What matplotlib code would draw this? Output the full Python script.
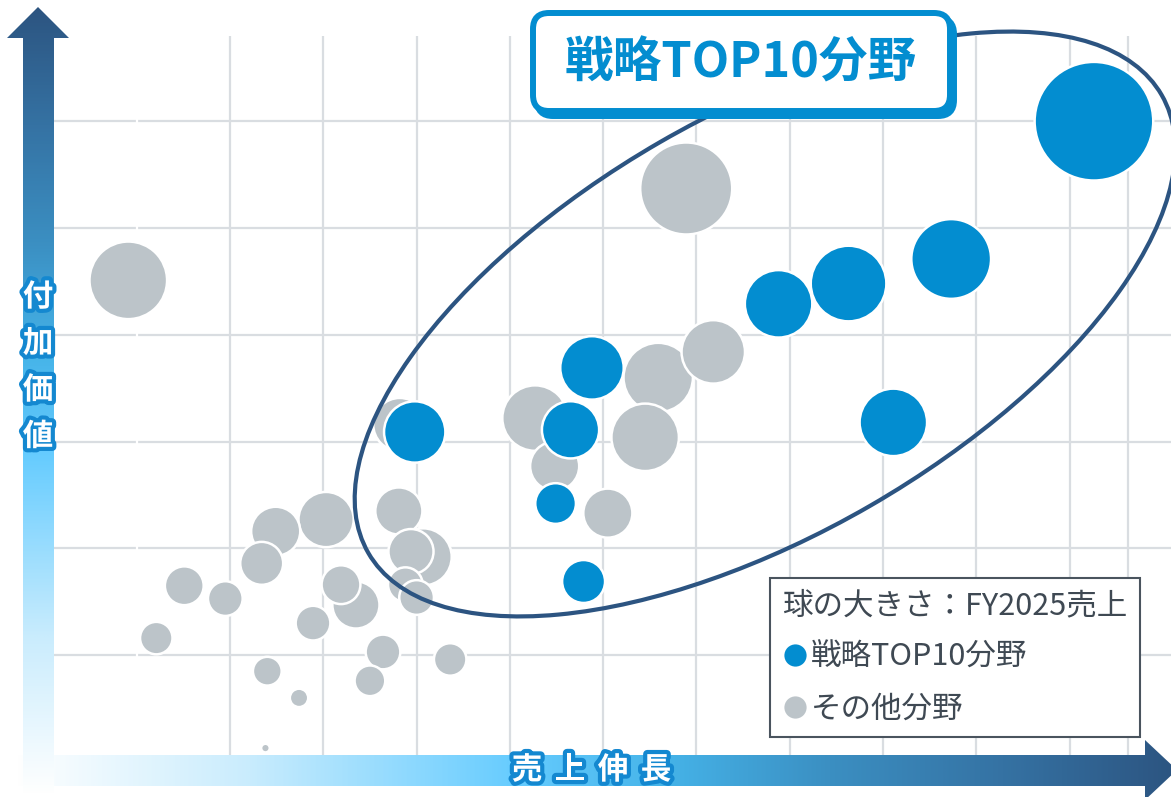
import matplotlib
matplotlib.use("Agg")
import matplotlib.pyplot as plt
import matplotlib.patches as mpatches
import matplotlib.patheffects as pe
from matplotlib.colors import LinearSegmentedColormap
from matplotlib.lines import Line2D
import numpy as np

plt.rcParams['font.family'] = ['Noto Sans CJK JP', 'DejaVu Sans']

W, H, DPI = 1171, 797, 100
BLUE = '#038dd0'
GRAY = '#bcc4c9'
NAVY = '#2c5481'
GRID = '#d9dde1'

# 戦略TOP10分野  x: 売上伸長, y: 付加価値, size: FY2025売上
top_x = [10.26, 8.73, 7.63, 6.88, 8.11, 4.88, 4.65, 2.98, 4.49, 4.79]
top_y = [6.00, 4.71, 4.48, 4.29, 3.18, 3.69, 3.11, 3.09, 2.42, 1.69]
top_sales = [374, 169, 152, 121, 121, 107, 87, 100, 44, 49]

# その他分野
other_x = [-0.09, 5.89, 6.18, 5.59, 5.45, 4.27, 4.48, 5.05, 2.82, 2.81,
           2.94, 3.07, 1.49, 2.03, 1.34, 0.51, 0.95, 0.21, 2.19, 2.35,
           1.89, 2.88, 3.00, 2.64, 2.50, 3.36, 1.40, 1.74, 1.38]
other_y = [4.51, 5.37, 3.84, 3.60, 3.04, 3.22, 2.77, 2.33, 3.16, 2.35,
           1.97, 1.92, 2.16, 2.27, 1.86, 1.65, 1.53, 1.16, 1.66, 1.47,
           1.30, 1.66, 1.54, 1.03, 0.76, 0.96, 0.85, 0.60, 0.13]
other_sales = [160, 225, 107, 128, 121, 114, 64, 64, 75, 59,
               54, 87, 64, 81, 49, 40, 32, 28, 40, 59,
               32, 32, 32, 32, 25, 28, 22, 9, 2]

title = '戦略TOP10分野'
legend_title = '球の大きさ：FY2025売上'
legend_labels = ['戦略TOP10分野', 'その他分野']
x_label = '売上伸長'
y_label = '付加価値'

SIZE_K = 19.5  # points^2 per sales unit

fig = plt.figure(figsize=(W / DPI, H / DPI), dpi=DPI)

# main bubble axes
ax = fig.add_axes([0, 0, 1, 1])
ax.set_xlim(-1.465, 11.086)
ax.set_ylim(-0.328, 7.135)
ax.set_axis_off()

ax.hlines(np.arange(1, 7), -0.9, 11.2, color=GRID, lw=1.6, zorder=0)
ax.vlines(list(range(1, 11)) + [10.62], -0.1, 6.80, color=GRID, lw=1.6, zorder=0)
ax.vlines([0], -0.1, 6.80, color='white', lw=1.6, zorder=0.5)


def bubbles(xs, ys, sales, color):
    order = np.argsort(-np.array(sales), kind='stable')
    ax.scatter(np.array(xs)[order], np.array(ys)[order],
               s=np.array(sales)[order] * SIZE_K, color=color,
               edgecolor='white', linewidth=1.8, zorder=2)


bubbles(other_x, other_y, other_sales, GRAY)
bubbles(top_x, top_y, top_sales, BLUE)

# overlay in pixel units for decorations
dax = fig.add_axes([0, 0, 1, 1], zorder=2)
dax.set_axis_off()
dax.patch.set_visible(False)

cmap = LinearSegmentedColormap.from_list('arrow', [
    (0.0, '#ffffff'), (0.2, '#c9ecfd'), (0.43, '#66ccff'), (0.56, '#45b3e8'),
    (0.7, '#3b8fc2'), (0.85, '#3572a3'), (1.0, '#2c5480')])


def grad_arrow(verts, extent, horizontal):
    poly = mpatches.Polygon(verts, closed=True, facecolor='none', edgecolor='none')
    dax.add_patch(poly)
    g = np.linspace(0, 1, 512)
    img = g[None, :] if horizontal else g[::-1][:, None]
    im = dax.imshow(img, cmap=cmap, extent=extent, aspect='auto',
                    interpolation='bilinear', origin='upper', zorder=1)
    im.set_clip_path(poly)


grad_arrow([(15, 755), (1145, 755), (1145, 740), (1177, 770), (1145, 800),
            (1145, 786), (15, 786)], (15, 1180, 800, 740), True)
grad_arrow([(23, 795), (23, 38), (7, 38), (38, 7), (69, 38), (54, 38),
            (54, 795)], (5, 70, 795, 5), False)

glow = [pe.withStroke(linewidth=6, foreground='#1488d0')]
for i, ch in enumerate(x_label):
    dax.text(527 + 43 * i, 770, ch, ha='center', va='center', fontsize=22,
             fontweight='bold', color='white', path_effects=glow, zorder=3)
for i, ch in enumerate(y_label):
    dax.text(38, 297 + 46.5 * i, ch, ha='center', va='center', fontsize=22,
             fontweight='bold', color='white', path_effects=glow, zorder=3)

# highlight ellipse
dax.add_patch(mpatches.Ellipse((765, 324), 916, 420, angle=-30, fill=False,
                               edgecolor=NAVY, lw=3, zorder=2))

# title box
for off, fc in [((4, 5), BLUE), ((0, 0), 'white')]:
    dax.add_patch(mpatches.FancyBboxPatch(
        (533 + off[0], 13 + off[1]), 417, 98,
        boxstyle='round,pad=0,rounding_size=16',
        facecolor=fc, edgecolor=BLUE, lw=4.3, zorder=4))
dax.text(741, 63, title, ha='center', va='center', fontsize=35,
         fontweight='bold', color=BLUE, zorder=5)

handles = [Line2D([], [], ls='', marker='o', ms=16, mfc=BLUE, mec='none'),
           Line2D([], [], ls='', marker='o', ms=16, mfc=GRAY, mec='none')]
leg = dax.legend(handles, legend_labels, title=legend_title, loc='upper left',
                 bbox_to_anchor=(770, 578), bbox_transform=dax.transData,
                 alignment='left', fontsize=22, title_fontsize=22,
                 frameon=True, fancybox=False, edgecolor='#4a545e',
                 framealpha=1, borderpad=0.4, handlelength=0.85,
                 handletextpad=0.1, labelspacing=0.68, borderaxespad=0)
leg.get_frame().set_linewidth(1.5)
leg.set_zorder(6)
for t in leg.get_texts():
    t.set_color('#3f4953')
leg.get_title().set_color('#3f4953')

dax.set_xlim(0, W)
dax.set_ylim(H, 0)

fig.savefig('out.png', dpi=DPI)
